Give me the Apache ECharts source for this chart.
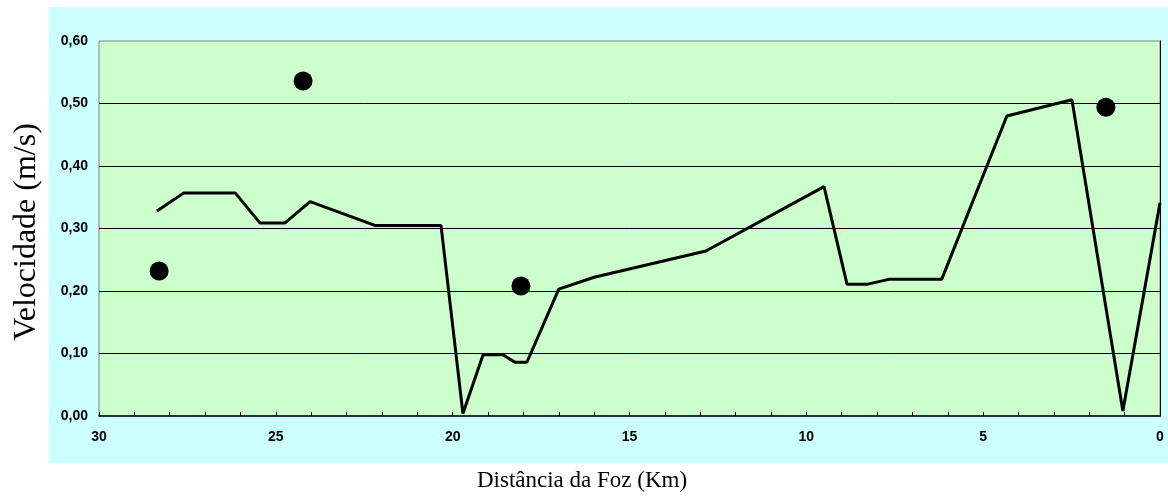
<!DOCTYPE html>
<html>
<head>
<meta charset="utf-8">
<style>
  html, body { margin: 0; padding: 0; background: #ffffff; }
  #chart { width: 1168px; height: 497px; }
</style>
<script src="https://cdn.jsdelivr.net/npm/echarts@6/dist/echarts.min.js"></script>
</head>
<body>
<div id="chart"></div>
<script>
// distancia da foz (km) e velocidade (m/s) do perfil
var lineKm  = [28.36, 27.6, 26.15, 25.45, 24.74, 24.03, 22.2, 20.33, 19.71, 19.14, 18.58, 18.24, 17.9, 17.0, 16.0, 12.84, 9.5, 8.85, 8.26, 7.64, 6.17, 4.33, 2.49, 1.05, 0];
var lineVel = [0.328, 0.357, 0.357, 0.309, 0.309, 0.343, 0.305, 0.305, 0.004, 0.098, 0.098, 0.086, 0.086, 0.203, 0.222, 0.264, 0.367, 0.211, 0.211, 0.219, 0.219, 0.480, 0.506, 0.008, 0.341];
// medicoes pontuais
var pointKm  = [28.3, 24.23, 18.07, 1.53];
var pointVel = [0.232, 0.536, 0.208, 0.494];
var xTicks = [30, 25, 20, 15, 10, 5, 0];
var yTicks = [0, 0.1, 0.2, 0.3, 0.4, 0.5, 0.6];

var lineData = lineKm.map(function (k, i) { return [k, lineVel[i]]; });
var pointData = pointKm.map(function (k, i) { return [k, pointVel[i]]; });

var chart = echarts.init(document.getElementById('chart'));
chart.setOption({
  backgroundColor: '#ffffff',
  animation: false,
  graphic: [
    { type: 'rect', z: -100, shape: { x: 49, y: 7, width: 1119, height: 456 }, style: { fill: '#ccffff' } },
    { type: 'text', x: 582, y: 481, style: { text: 'Distância da Foz (Km)', font: '23px "Liberation Serif"', fill: '#000', align: 'center', verticalAlign: 'middle' } },
    { type: 'text', x: 27, y: 232, rotation: Math.PI / 2, style: { text: 'Velocidade (m/s)', font: '32px "Liberation Serif"', fill: '#000', align: 'center', verticalAlign: 'middle' } }
  ],
  grid: {
    left: 99, top: 41, right: 8, bottom: 81,
    show: true,
    backgroundColor: '#ccffcc',
    borderColor: '#808080',
    borderWidth: 1
  },
  xAxis: {
    type: 'value',
    min: 0, max: 30, interval: 1,
    inverse: true,
    axisLine: { lineStyle: { color: '#000', width: 1.5 } },
    axisTick: { inside: true, length: 4, lineStyle: { color: '#000' } },
    splitLine: { show: false },
    axisLabel: {
      margin: 14,
      color: '#000',
      fontFamily: '"Liberation Sans", Arial',
      fontWeight: 'bold',
      fontSize: 14,
      formatter: function (v) { return xTicks.indexOf(v) >= 0 ? String(v) : ''; }
    }
  },
  yAxis: [{
    type: 'value',
    min: 0, max: 0.6, interval: 0.1,
    axisLine: { show: true, lineStyle: { color: '#808080' } },
    axisTick: { show: false },
    splitLine: { show: true, showMinLine: false, showMaxLine: false, lineStyle: { color: '#000', width: 1 } },
    axisLabel: {
      margin: 11,
      color: '#000',
      fontFamily: '"Liberation Sans", Arial',
      fontWeight: 'bold',
      fontSize: 14,
      formatter: function (v) {
        var t = yTicks.filter(function (y) { return Math.abs(y - v) < 1e-6; })[0];
        return t === undefined ? '' : t.toFixed(2).replace('.', ',');
      }
    }
  }, {
    type: 'value',
    position: 'right',
    min: 0, max: 0.6, interval: 0.1,
    axisLine: { show: true, lineStyle: { color: '#000' } },
    axisTick: { show: false },
    axisLabel: { show: false },
    splitLine: { show: false }
  }],
  series: [{
    type: 'line',
    data: lineData,
    showSymbol: false,
    symbol: 'none',
    lineStyle: { color: '#000', width: 3 },
    z: 3
  }, {
    type: 'scatter',
    data: pointData,
    symbol: 'circle',
    symbolSize: 19,
    itemStyle: { color: '#000', opacity: 1 },
    z: 4
  }]
});
</script>
</body>
</html>
